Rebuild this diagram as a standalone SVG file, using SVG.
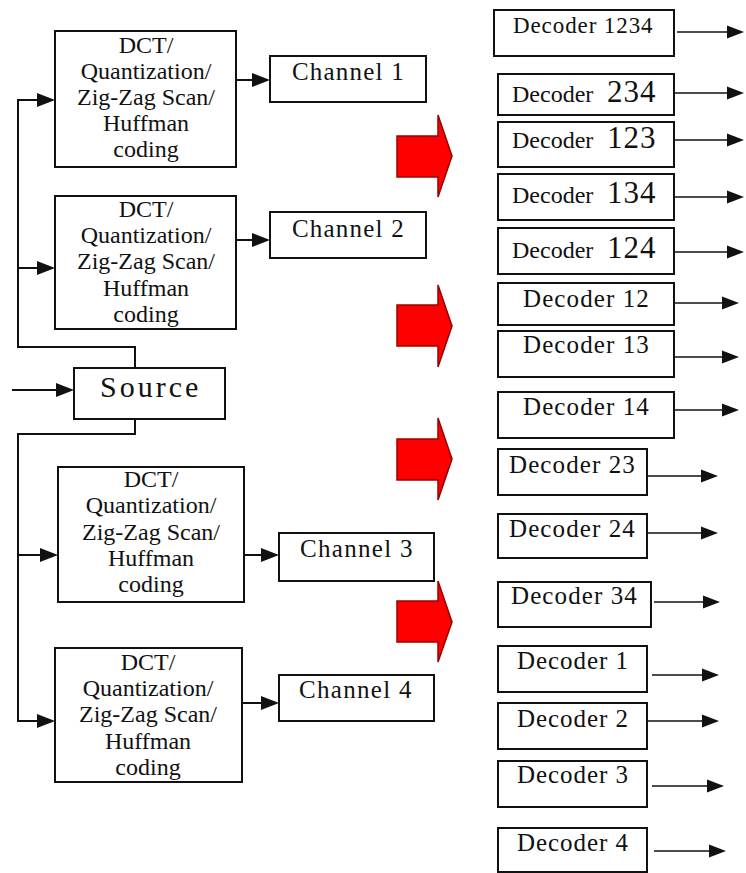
<svg xmlns="http://www.w3.org/2000/svg" width="746" height="873" viewBox="0 0 746 873">
<style>
.box{fill:#fff;stroke:#111;stroke-width:2}
.blk{font-size:24px;text-anchor:middle;fill:#111}
.ln{fill:none;stroke:#111;stroke-width:2}
.la{fill:none;stroke:#111;stroke-width:1.6}
.hd{fill:#111;stroke:none}
.red{fill:#ff0000;stroke:#9a0000;stroke-width:1.5}
</style>

<g id="connectors">
<path class="ln" d="M12,390 H64"/>
<path class="ln" d="M135,368 V347 H18 V100 H45"/>
<path class="ln" d="M18,268 H45"/>
<path class="ln" d="M135,419 V434 H18 V721 H45"/>
<path class="ln" d="M18,555 H48"/>
<path class="ln" d="M236,80 H260"/>
<path class="ln" d="M236,240 H260"/>
<path class="ln" d="M244,555 H269"/>
<path class="ln" d="M242,703 H269"/>
<path class="la" d="M677,32 H734"/>
<path class="la" d="M675,93 H734"/>
<path class="la" d="M675,140 H734"/>
<path class="la" d="M675,197 H734"/>
<path class="la" d="M675,252 H734"/>
<path class="la" d="M674,303 H729"/>
<path class="la" d="M674,357 H729"/>
<path class="la" d="M674,410 H729"/>
<path class="la" d="M648,476 H708"/>
<path class="la" d="M648,533 H708"/>
<path class="la" d="M654,602 H710"/>
<path class="la" d="M652,675 H709"/>
<path class="la" d="M648,721 H709"/>
<path class="la" d="M652,786 H714"/>
<path class="la" d="M654,851 H716"/>
<path class="hd" d="M56,383 L74,390 L56,397 Z"/>
<path class="hd" d="M37,93 L55,100 L37,107 Z"/>
<path class="hd" d="M37,261 L55,268 L37,275 Z"/>
<path class="hd" d="M40,548 L58,555 L40,562 Z"/>
<path class="hd" d="M37,714 L55,721 L37,728 Z"/>
<path class="hd" d="M252,73 L270,80 L252,87 Z"/>
<path class="hd" d="M252,233 L270,240 L252,247 Z"/>
<path class="hd" d="M261,548 L279,555 L261,562 Z"/>
<path class="hd" d="M261,696 L279,703 L261,710 Z"/>
<path class="hd" d="M727,25.5 L744,32 L727,38.5 Z"/>
<path class="hd" d="M727,86.5 L744,93 L727,99.5 Z"/>
<path class="hd" d="M727,133.5 L744,140 L727,146.5 Z"/>
<path class="hd" d="M727,190.5 L744,197 L727,203.5 Z"/>
<path class="hd" d="M727,245.5 L744,252 L727,258.5 Z"/>
<path class="hd" d="M722,296.5 L739,303 L722,309.5 Z"/>
<path class="hd" d="M722,350.5 L739,357 L722,363.5 Z"/>
<path class="hd" d="M722,403.5 L739,410 L722,416.5 Z"/>
<path class="hd" d="M701,469.5 L718,476 L701,482.5 Z"/>
<path class="hd" d="M701,526.5 L718,533 L701,539.5 Z"/>
<path class="hd" d="M703,595.5 L720,602 L703,608.5 Z"/>
<path class="hd" d="M702,668.5 L719,675 L702,681.5 Z"/>
<path class="hd" d="M702,714.5 L719,721 L702,727.5 Z"/>
<path class="hd" d="M707,779.5 L724,786 L707,792.5 Z"/>
<path class="hd" d="M709,844.5 L726,851 L709,857.5 Z"/>
</g>

<g id="source">
<rect class="box" x="74" y="368" width="151" height="51"/>
<text style="font-family:'Liberation Serif',serif" fill="#111" x="100" y="397" font-size="30" letter-spacing="3">Source</text>
</g>

<g id="block1">
<rect class="box" x="55" y="31" width="181" height="136"/>
<text class="blk" style="font-family:'Liberation Serif',serif" x="146"><tspan x="146" y="53">DCT/</tspan><tspan x="146" y="79">Quantization/</tspan><tspan x="146" y="105">Zig-Zag Scan/</tspan><tspan x="146" y="131">Huffman</tspan><tspan x="146" y="157">coding</tspan></text>
</g>
<g id="block2">
<rect class="box" x="55" y="196" width="181" height="133"/>
<text class="blk" style="font-family:'Liberation Serif',serif" x="146"><tspan x="146" y="217">DCT/</tspan><tspan x="146" y="243">Quantization/</tspan><tspan x="146" y="269">Zig-Zag Scan/</tspan><tspan x="146" y="296">Huffman</tspan><tspan x="146" y="322">coding</tspan></text>
</g>
<g id="block3">
<rect class="box" x="58" y="467" width="186" height="135"/>
<text class="blk" style="font-family:'Liberation Serif',serif" x="151"><tspan x="151" y="487">DCT/</tspan><tspan x="151" y="513">Quantization/</tspan><tspan x="151" y="540">Zig-Zag Scan/</tspan><tspan x="151" y="566">Huffman</tspan><tspan x="151" y="592">coding</tspan></text>
</g>
<g id="block4">
<rect class="box" x="55" y="648" width="187" height="134"/>
<text class="blk" style="font-family:'Liberation Serif',serif" x="148"><tspan x="148" y="670">DCT/</tspan><tspan x="148" y="696">Quantization/</tspan><tspan x="148" y="722">Zig-Zag Scan/</tspan><tspan x="148" y="749">Huffman</tspan><tspan x="148" y="775">coding</tspan></text>
</g>

<g id="channel1">
<rect class="box" x="270" y="56" width="156" height="46"/>
<text style="font-family:'Liberation Serif',serif" fill="#111" x="292" y="80" font-size="25" letter-spacing="1.2">Channel 1</text>
</g>
<g id="channel2">
<rect class="box" x="270" y="212" width="156" height="46"/>
<text style="font-family:'Liberation Serif',serif" fill="#111" x="292" y="237" font-size="25" letter-spacing="1.2">Channel 2</text>
</g>
<g id="channel3">
<rect class="box" x="279" y="533" width="155" height="48"/>
<text style="font-family:'Liberation Serif',serif" fill="#111" x="300" y="557" font-size="25" letter-spacing="1.3">Channel 3</text>
</g>
<g id="channel4">
<rect class="box" x="279" y="675" width="155" height="46"/>
<text style="font-family:'Liberation Serif',serif" fill="#111" x="299" y="698" font-size="25" letter-spacing="1.3">Channel 4</text>
</g>

<g id="bigarrows">
<path class="red" d="M397,136 H438 V115 L452,156 L438,197 V177 H397 Z"/>
<path class="red" d="M397,305 H438 V285 L452,326 L438,367 V346 H397 Z"/>
<path class="red" d="M397,439 H438 V418 L452,459 L438,500 V480 H397 Z"/>
<path class="red" d="M397,601 H438 V581 L452,622 L438,662 V642 H397 Z"/>
</g>

<g id="dec1234">
<rect class="box" x="494" y="10" width="180" height="46"/>
<text style="font-family:'Liberation Serif',serif" fill="#111" x="513" y="33" font-size="23" letter-spacing="0.9">Decoder 1234</text>
</g>
<g id="dec234">
<rect class="box" x="498" y="74" width="176" height="41"/>
<text style="font-family:'Liberation Serif',serif" fill="#111" x="512" y="102" font-size="24">Decoder <tspan x="607" font-size="31" letter-spacing="1">234</tspan></text>
</g>
<g id="dec123">
<rect class="box" x="498" y="122" width="176" height="45"/>
<text style="font-family:'Liberation Serif',serif" fill="#111" x="512" y="148" font-size="24">Decoder <tspan x="607" font-size="31" letter-spacing="1">123</tspan></text>
</g>
<g id="dec134">
<rect class="box" x="498" y="174" width="176" height="46"/>
<text style="font-family:'Liberation Serif',serif" fill="#111" x="512" y="203" font-size="24">Decoder <tspan x="607" font-size="31" letter-spacing="1">134</tspan></text>
</g>
<g id="dec124">
<rect class="box" x="498" y="228" width="176" height="46"/>
<text style="font-family:'Liberation Serif',serif" fill="#111" x="512" y="258" font-size="24">Decoder <tspan x="607" font-size="31" letter-spacing="1">124</tspan></text>
</g>
<g id="dec12">
<rect class="box" x="498" y="283" width="176" height="42"/>
<text style="font-family:'Liberation Serif',serif" fill="#111" x="523" y="307" font-size="25" letter-spacing="1.1">Decoder 12</text>
</g>
<g id="dec13">
<rect class="box" x="498" y="331" width="176" height="46"/>
<text style="font-family:'Liberation Serif',serif" fill="#111" x="523" y="353" font-size="25" letter-spacing="1.1">Decoder 13</text>
</g>
<g id="dec14">
<rect class="box" x="498" y="392" width="176" height="46"/>
<text style="font-family:'Liberation Serif',serif" fill="#111" x="523" y="415" font-size="25" letter-spacing="1.1">Decoder 14</text>
</g>
<g id="dec23">
<rect class="box" x="498" y="449" width="149" height="46"/>
<text style="font-family:'Liberation Serif',serif" fill="#111" x="509" y="473" font-size="25" letter-spacing="1.1">Decoder 23</text>
</g>
<g id="dec24">
<rect class="box" x="498" y="514" width="149" height="44"/>
<text style="font-family:'Liberation Serif',serif" fill="#111" x="509" y="537" font-size="25" letter-spacing="1.1">Decoder 24</text>
</g>
<g id="dec34">
<rect class="box" x="498" y="582" width="153" height="45"/>
<text style="font-family:'Liberation Serif',serif" fill="#111" x="511" y="604" font-size="25" letter-spacing="1.1">Decoder 34</text>
</g>
<g id="dec1">
<rect class="box" x="498" y="646" width="149" height="46"/>
<text style="font-family:'Liberation Serif',serif" fill="#111" x="517" y="669" font-size="25" letter-spacing="0.95">Decoder 1</text>
</g>
<g id="dec2">
<rect class="box" x="498" y="703" width="149" height="46"/>
<text style="font-family:'Liberation Serif',serif" fill="#111" x="517" y="727" font-size="25" letter-spacing="0.95">Decoder 2</text>
</g>
<g id="dec3">
<rect class="box" x="498" y="761" width="149" height="46"/>
<text style="font-family:'Liberation Serif',serif" fill="#111" x="517" y="783" font-size="25" letter-spacing="0.95">Decoder 3</text>
</g>
<g id="dec4">
<rect class="box" x="498" y="828" width="149" height="44"/>
<text style="font-family:'Liberation Serif',serif" fill="#111" x="517" y="851" font-size="25" letter-spacing="0.95">Decoder 4</text>
</g>
</svg>
